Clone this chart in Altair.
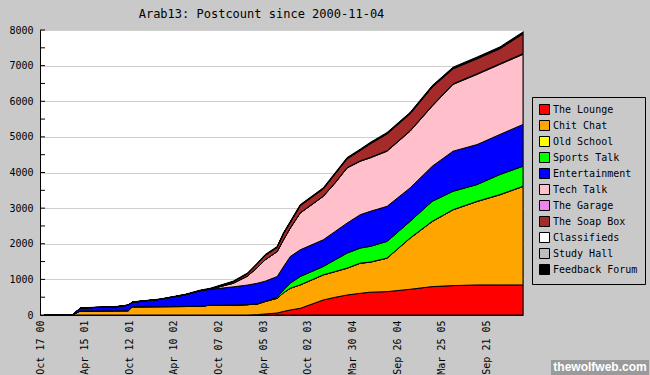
import altair as alt
import pandas as pd

series = ["The Lounge", "Chit Chat", "Old School", "Sports Talk", "Entertainment",
          "Tech Talk", "The Garage", "The Soap Box", "Classifieds", "Study Hall",
          "Feedback Forum"]
colors = ["#FF0000", "#FFA500", "#FFFF00", "#00FF00", "#0000FF", "#FFC0CB",
          "#EE82EE", "#A52A2A", "#FFFFFF", "#BEBEBE", "#000000"]

dates = ["2000-11-04", "2001-02-25", "2001-03-29", "2001-06-18", "2001-08-25",
         "2001-10-08", "2001-10-24", "2002-02-14", "2002-05-26", "2002-07-25",
         "2002-09-04", "2002-12-05", "2003-01-31", "2003-03-12", "2003-04-13",
         "2003-05-31", "2003-06-25", "2003-07-23", "2003-09-01", "2003-12-03",
         "2004-01-20", "2004-03-08", "2004-04-30", "2004-06-09", "2004-08-16",
         "2004-11-17", "2005-02-14", "2005-05-09", "2005-08-14", "2005-11-14",
         "2006-02-15"]

the_lounge = [0, 0, 0, 0, 0, 0, 0, 0, 0, 0, 0, 0, 0, 10, 30, 56, 100, 141, 187, 422,
              497, 562, 609, 640, 656, 722, 797, 825, 844, 844, 844]
chit_chat = [0, 0, 112, 115, 118, 120, 230, 234, 238, 245, 275, 280, 290, 299, 350, 413,
             520, 609, 657, 703, 721, 751, 844, 842, 938, 1434, 1827, 2127, 2342, 2530, 2764]
old_school = [0, 0, 0, 0, 0, 0, 0, 0, 0, 0, 0, 0, 0, 0, 0, 0, 1, 2, 2, 3, 3, 3, 4, 4, 4,
              5, 5, 5, 5, 6, 6]
sports_talk = [0, 0, 0, 0, 0, 0, 0, 0, 0, 0, 0, 0, 0, 0, 5, 31, 80, 141, 234, 234, 329,
               421, 422, 440, 468, 468, 562, 515, 470, 563, 562]
entertainment = [0, 0, 88, 100, 117, 155, 130, 206, 332, 439, 445, 510, 550, 582, 565,
                 578, 650, 749, 750, 750, 796, 844, 937, 983, 984, 939, 984, 1126, 1124,
                 1125, 1173]
tech_talk = [0, 0, 0, 0, 0, 0, 0, 0, 0, 0, 10, 101, 250, 439, 600, 703, 750, 797, 1032,
             1218, 1360, 1547, 1499, 1501, 1547, 1592, 1687, 1875, 1969, 1968, 1968]
the_garage = [0, 0, 0, 0, 0, 0, 0, 0, 0, 0, 0, 0, 0, 0, 0, 0, 3, 5, 5, 8, 10, 10, 12, 12,
              14, 14, 16, 16, 18, 18, 20]
the_soap_box = [0, 0, 0, 0, 0, 0, 0, 0, 0, 0, 5, 40, 65, 105, 125, 115, 170, 155, 200,
                200, 245, 245, 290, 380, 470, 470, 515, 420, 420, 420, 555]
classifieds = [0, 0, 0, 0, 0, 0, 0, 0, 0, 0, 2, 4, 5, 6, 6, 7, 8, 8, 9, 10, 10, 11, 11,
               12, 12, 13, 13, 14, 14, 15, 15]
study_hall = [0, 0, 0, 0, 0, 0, 0, 0, 0, 0, 0, 0, 0, 0, 0, 0, 0, 0, 0, 0, 1, 1, 2, 2, 2,
              3, 3, 3, 4, 4, 4]
feedback_forum = [0, 0, 5, 6, 7, 8, 9, 10, 12, 14, 15, 16, 17, 18, 19, 20, 21, 22, 22, 23,
                  24, 25, 26, 27, 28, 29, 30, 31, 32, 33, 35]

y_tick_values = [0, 1000, 2000, 3000, 4000, 5000, 6000, 7000, 8000]
y_minor_ticks = [0, 500, 1000, 1500, 2000, 2500, 3000, 3500, 4000, 4500, 5000, 5500,
                 6000, 6500, 7000, 7500, 8000]

all_series = [the_lounge, chit_chat, old_school, sports_talk, entertainment, tech_talk,
              the_garage, the_soap_box, classifieds, study_hall, feedback_forum]

rows = []
for k, (name, vals) in enumerate(zip(series, all_series)):
    for d, v in zip(dates, vals):
        rows.append({"date": d, "forum": name, "posts": v, "ord": k})
df = pd.DataFrame(rows)

BG = "#C9C9C9"
AXFONT = "DejaVu Sans Mono"

x_ticks = [alt.DateTime(year=2000, month=10, date=17, utc=True),
           alt.DateTime(year=2001, month=4, date=15, utc=True),
           alt.DateTime(year=2001, month=10, date=12, utc=True),
           alt.DateTime(year=2002, month=4, date=10, utc=True),
           alt.DateTime(year=2002, month=10, date=7, utc=True),
           alt.DateTime(year=2003, month=4, date=5, utc=True),
           alt.DateTime(year=2003, month=10, date=2, utc=True),
           alt.DateTime(year=2004, month=3, date=30, utc=True),
           alt.DateTime(year=2004, month=9, date=26, utc=True),
           alt.DateTime(year=2005, month=3, date=25, utc=True),
           alt.DateTime(year=2005, month=9, date=21, utc=True)]

y_axis = alt.Axis(values=y_tick_values, format="d", grid=True,
                  gridColor="#CFCFCF", labelOverlap=False, labelFlush=False,
                  ticks=False, domainColor="black", labelFont=AXFONT,
                  labelFontSize=10, labelColor="black", labelPadding=7,
                  title=None)

areas = alt.Chart(df).mark_area(stroke="black", strokeWidth=1, fillOpacity=1,
                                interpolate="linear").encode(
    x=alt.X("date:T",
            scale=alt.Scale(type="utc",
                            domain=[alt.DateTime(year=2000, month=10, date=17, utc=True),
                                    alt.DateTime(year=2006, month=2, date=15, utc=True)]),
            axis=alt.Axis(values=x_ticks,
                          labelExpr="utcFormat(datum.value, '%b %d %y')",
                          labelAngle=270, labelFont=AXFONT, labelFontSize=10,
                          labelColor="black", ticks=False, labelPadding=5,
                          labelOverlap=False, labelFlush=False,
                          domainColor="black", grid=False, title=None)),
    y=alt.Y("posts:Q", stack="zero",
            scale=alt.Scale(domain=[0, 8000], nice=False),
            axis=y_axis),
    color=alt.Color("forum:N",
                    scale=alt.Scale(domain=series, range=colors),
                    legend=alt.Legend(orient="none", legendX=492, legendY=67, title=None,
                                      symbolType="square", symbolSize=100,
                                      symbolStrokeColor="black", symbolStrokeWidth=1,
                                      symbolOpacity=1, labelFont="DejaVu Sans Mono",
                                      labelFontSize=10, labelColor="black",
                                      rowPadding=1, padding=7, labelOffset=3,
                                      fillColor=BG, strokeColor="black")),
    order=alt.Order("ord:Q", sort="ascending"),
)

ticks = alt.Chart(pd.DataFrame({"v": y_minor_ticks})).mark_rule(
    color="black", strokeWidth=1).encode(
    y=alt.Y("v:Q", axis=y_axis), x=alt.value(0), x2=alt.value(5))

wm_box = alt.Chart(alt.Data(values=[{}])).mark_rect(color="#9A9A9A").encode(
    x=alt.value(511), x2=alt.value(609), y=alt.value(330), y2=alt.value(345))
wm_text = alt.Chart(alt.Data(values=[{}])).mark_text(
    text="thewolfweb.com", font="Liberation Sans", fontWeight="bold", fontSize=12,
    color="white", align="center", baseline="middle").encode(
    x=alt.value(560), y=alt.value(337))

chart = alt.layer(areas, ticks, wm_box, wm_text).properties(
    width=483, height=285,
    autosize=alt.AutoSizeParams(type="none"),
    padding={"left": 40, "top": 30, "right": 127, "bottom": 60},
    background=BG,
    title=alt.TitleParams("Arab13: Postcount since 2000-11-04", font="DejaVu Sans Mono",
                          fontSize=12, fontWeight="normal", color="black",
                          anchor="middle", dx=-20, offset=4),
).configure_view(fill="white", stroke="#808080", strokeWidth=1)

chart.save("out.html", embed_options={"renderer": "svg", "actions": False})
